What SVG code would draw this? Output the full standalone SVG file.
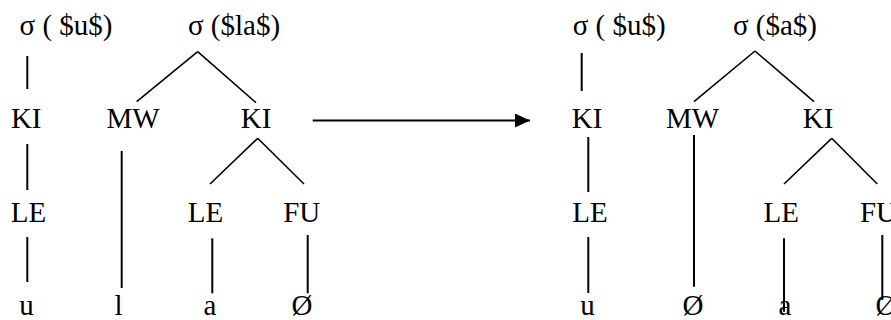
<svg xmlns="http://www.w3.org/2000/svg" width="891" height="320" viewBox="0 0 891 320">
<style>
text{font-family:"Liberation Serif","Times New Roman",serif;font-size:29px;fill:#000;text-anchor:middle}
.v{stroke:#000;stroke-width:2;fill:none}
.d{stroke:#000;stroke-width:1.6;fill:none}
</style>
<defs>
<marker id="ah" viewBox="0 0 15 14" refX="15" refY="7" markerWidth="15" markerHeight="14" markerUnits="userSpaceOnUse" orient="auto">
<path d="M0,0 L15,7 L0,14 Z" fill="#000"/>
</marker>
</defs>
<rect width="891" height="320" fill="#fff"/>
<g id="connectors">
<line class="v" x1="27.3" y1="56" x2="27.3" y2="89"/>
<line class="d" x1="197.7" y1="51.7" x2="136.7" y2="101.7"/>
<line class="d" x1="197.7" y1="51.7" x2="256" y2="102.7"/>
<line class="v" x1="27.3" y1="144" x2="27.3" y2="190"/>
<line class="v" x1="121.7" y1="151" x2="121.7" y2="288"/>
<line class="d" x1="257.7" y1="138.3" x2="210" y2="184"/>
<line class="d" x1="257.7" y1="138.3" x2="304" y2="184"/>
<line class="v" x1="27.3" y1="237" x2="27.3" y2="282"/>
<line class="v" x1="212.3" y1="238.3" x2="212.3" y2="293.3"/>
<line class="v" x1="307.7" y1="235" x2="307.7" y2="293.3"/>
<line x1="312.7" y1="120.5" x2="530" y2="120.5" stroke="#000" stroke-width="2" marker-end="url(#ah)"/>
<line class="v" x1="581.7" y1="53" x2="581.7" y2="91"/>
<line class="d" x1="755" y1="51" x2="694" y2="101.7"/>
<line class="d" x1="755" y1="51" x2="814" y2="101.7"/>
<line class="v" x1="588.3" y1="137" x2="588.3" y2="192"/>
<line class="v" x1="694" y1="135" x2="694" y2="286.7"/>
<line class="d" x1="831.7" y1="138.3" x2="784" y2="184"/>
<line class="d" x1="831.7" y1="138.3" x2="877.3" y2="184"/>
<line class="v" x1="588.3" y1="237" x2="588.3" y2="293"/>
<line class="v" x1="784" y1="238.3" x2="784" y2="311.7"/>
<line class="v" x1="882.3" y1="235" x2="882.3" y2="300"/>
</g>
<g id="left-sigma1"><text x="66" y="35">σ ( $u$)</text></g>
<g id="left-sigma2"><text x="234" y="35">σ ($la$)</text></g>
<g id="left-KI1"><text x="26.2" y="128">KI</text></g>
<g id="left-MW"><text x="133" y="128">MW</text></g>
<g id="left-KI2"><text x="256" y="128">KI</text></g>
<g id="left-LE1"><text x="28.5" y="222">LE</text></g>
<g id="left-LE2"><text x="205.5" y="222">LE</text></g>
<g id="left-FU"><text x="301.7" y="222">FU</text></g>
<g id="left-u"><text x="26.5" y="315">u</text></g>
<g id="left-l"><text x="118.5" y="315">l</text></g>
<g id="left-a"><text x="210" y="315">a</text></g>
<g id="left-null"><text x="302" y="315">Ø</text></g>
<g id="right-sigma1"><text x="619.2" y="35">σ ( $u$)</text></g>
<g id="right-sigma2"><text x="775" y="35">σ ($a$)</text></g>
<g id="right-KI1"><text x="587" y="128">KI</text></g>
<g id="right-MW"><text x="692.5" y="128">MW</text></g>
<g id="right-KI2"><text x="818" y="128">KI</text></g>
<g id="right-LE1"><text x="590" y="222">LE</text></g>
<g id="right-LE2"><text x="781.3" y="222">LE</text></g>
<g id="right-FU"><text x="878.5" y="222">FU</text></g>
<g id="right-u"><text x="587.5" y="315">u</text></g>
<g id="right-null1"><text x="693" y="315">Ø</text></g>
<g id="right-a"><text x="785" y="315">a</text></g>
<g id="right-null2"><text x="886" y="315">Ø</text></g>
</svg>
